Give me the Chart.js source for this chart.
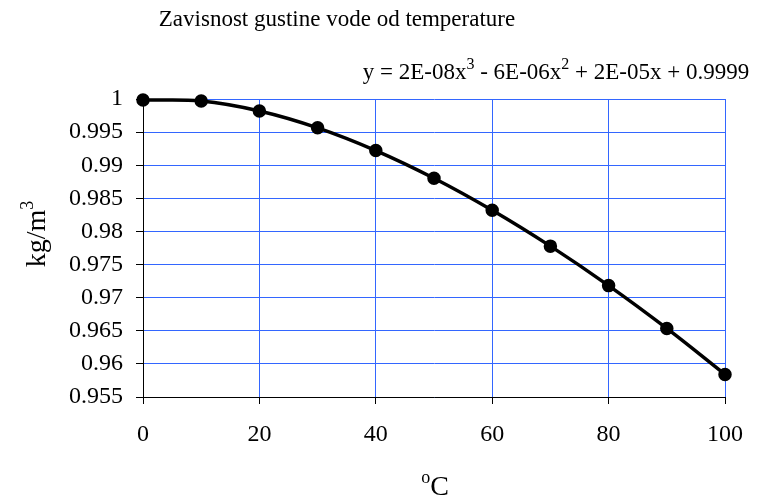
<!DOCTYPE html>
<html><head><meta charset="utf-8">
<script src="https://cdn.jsdelivr.net/npm/chart.js@4/dist/chart.umd.min.js"></script>
<style>html,body{margin:0;padding:0;background:#fff}#wrap{width:765px;height:499px}</style>
</head><body><div id="wrap"><canvas id="c" width="765" height="499"></canvas></div>
<script>
const temperatures = [0, 10, 20, 30, 40, 50, 60, 70, 80, 90, 100];
const densities = [0.99984, 0.9997, 0.9982, 0.99565, 0.99222, 0.98804, 0.9832, 0.97778, 0.97182, 0.96535, 0.9584];
const yTicks = [0.955, 0.96, 0.965, 0.97, 0.975, 0.98, 0.985, 0.99, 0.995, 1];
const xTicks = [0, 20, 40, 60, 80, 100];
const chartTitle = 'Zavisnost gustine vode od temperature';
// text pieces: [text, isSuperscript]
const equationParts = [['y = 2E-08x', false], ['3', true], [' - 6E-06x', false], ['2', true], [' + 2E-05x + 0.9999', false]];
const xTitleParts = [['o', true], ['C', false]];
const yTitleParts = [['kg/m', false], ['3', true]];

const FONT = '"Liberation Serif", "Times New Roman", serif';
const gridBlue = '#3366ff';

function drawRich(ctx, parts, cx, cy, size, supSize, supRise) {
  let w = 0;
  parts.forEach(([t, sup]) => {
    ctx.font = (sup ? supSize : size) + 'px ' + FONT;
    w += ctx.measureText(t).width;
  });
  let x = cx - w / 2;
  ctx.textAlign = 'left';
  ctx.textBaseline = 'alphabetic';
  const base = cy + size * 0.33;
  parts.forEach(([t, sup]) => {
    ctx.font = (sup ? supSize : size) + 'px ' + FONT;
    ctx.fillText(t, x, sup ? base - supRise : base);
    x += ctx.measureText(t).width;
  });
}

const textPlugin = {
  id: 'texts',
  afterDraw(chart) {
    const ctx = chart.ctx;
    ctx.save();
    ctx.fillStyle = '#000';
    ctx.textBaseline = 'middle';
    ctx.textAlign = 'center';
    ctx.font = '23px ' + FONT;
    ctx.fillText(chartTitle, 337, 20);
    drawRich(ctx, equationParts, 556, 71, 23, 16, 10);
    drawRich(ctx, xTitleParts, 435, 486, 28, 18, 12);
    ctx.translate(36, 234);
    ctx.rotate(-Math.PI / 2);
    drawRich(ctx, yTitleParts, 0, 0, 28, 18, 12);
    ctx.restore();
  }
};

new Chart(document.getElementById('c'), {
  type: 'scatter',
  data: {
    datasets: [{
      data: temperatures.map((t, i) => ({x: t, y: densities[i]})),
      showLine: true,
      clip: false,
      borderColor: '#000',
      backgroundColor: '#000',
      borderWidth: 3.5,
      tension: 0.4,
      pointRadius: 5,
      pointHoverRadius: 5
    }]
  },
  options: {
    responsive: false,
    animation: false,
    devicePixelRatio: 1,
    layout: {padding: {left: 0, top: 99, right: 40, bottom: 0}},
    plugins: {legend: {display: false}, tooltip: {enabled: false}},
    scales: {
      x: {
        type: 'linear', min: 0, max: 100,
        afterFit(s) { s.height = 102; },
        afterBuildTicks(s) { s.ticks = xTicks.map(v => ({value: v})); },
        grid: {color: gridBlue, lineWidth: 1, tickColor: '#000', tickLength: 7, drawTicks: true},
        border: {color: '#000', width: 1},
        ticks: {color: '#000', font: {family: FONT, size: 24}, padding: 16, maxRotation: 0}
      },
      y: {
        type: 'linear', min: 0.955, max: 1,
        afterFit(s) { s.width = 143; },
        afterBuildTicks(s) { s.ticks = yTicks.map(v => ({value: v})); },
        grid: {color: gridBlue, lineWidth: 1, tickColor: '#000', tickLength: 7, drawTicks: true},
        border: {color: '#000', width: 1},
        ticks: {color: '#000', font: {family: FONT, size: 24}, padding: 13,
          callback: v => String(Number(v.toFixed(3)))}
      }
    }
  },
  plugins: [textPlugin]
});
</script></body></html>
